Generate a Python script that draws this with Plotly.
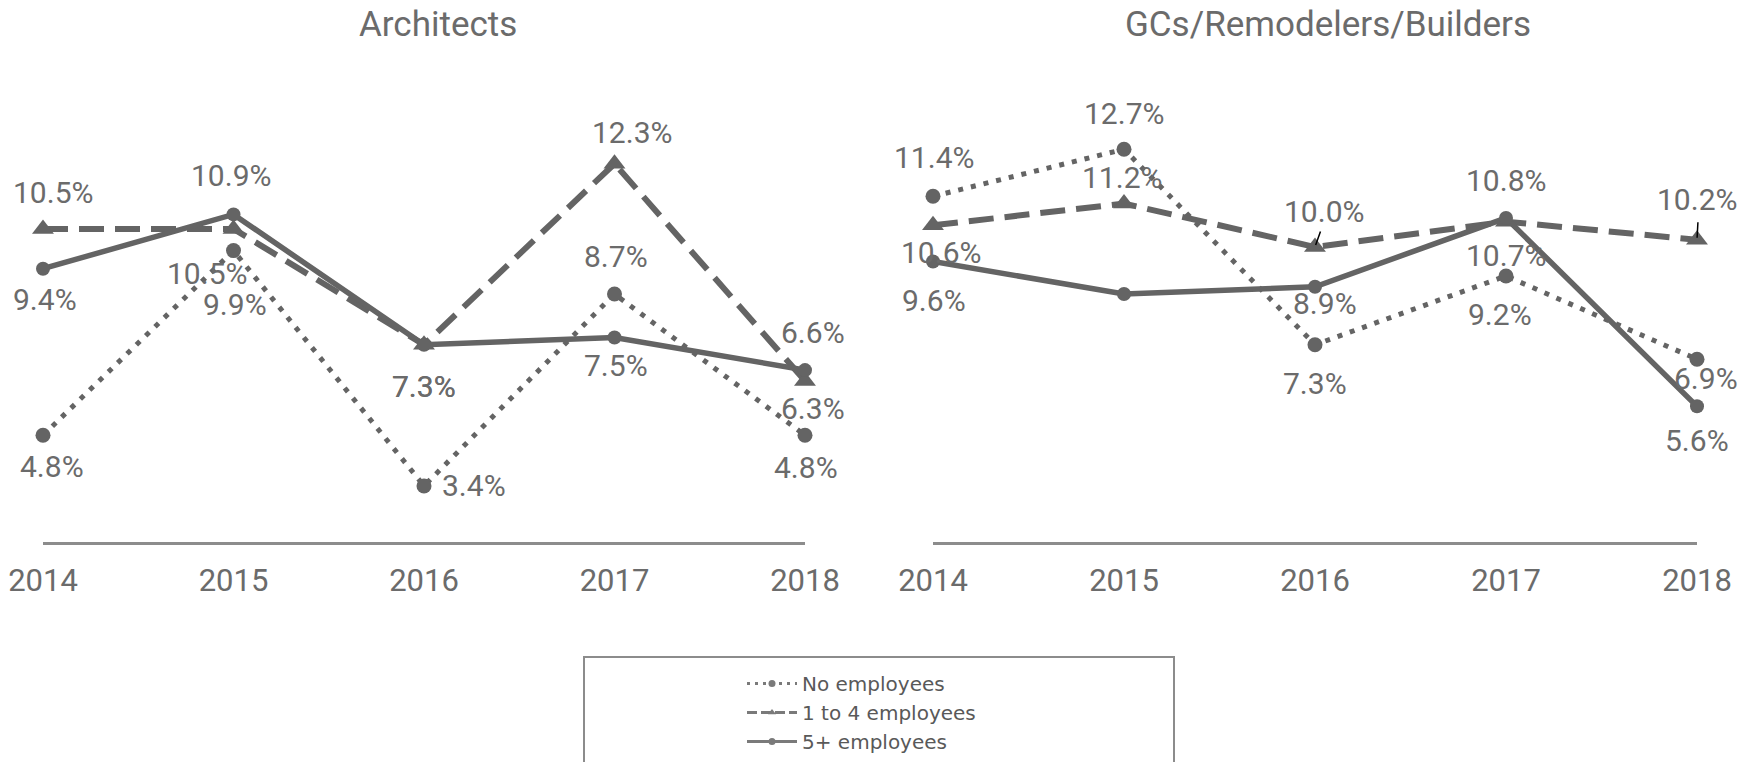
import plotly.graph_objects as go

# ---- data -------------------------------------------------------------
years = [2014, 2015, 2016, 2017, 2018]
year_labels = ["2014", "2015", "2016", "2017", "2018"]
series_names = ["No employees", "1 to 4 employees", "5+ employees"]
panel_titles = ["Architects", "GCs/Remodelers/Builders"]

arch_no_emp = [4.8, 9.9, 3.4, 8.7, 4.8]
arch_1_to_4 = [10.5, 10.5, 7.3, 12.3, 6.3]
arch_5_plus = [9.4, 10.9, 7.3, 7.5, 6.6]

gc_no_emp = [11.4, 12.7, 7.3, 9.2, 6.9]
gc_1_to_4 = [10.6, 11.2, 10.0, 10.7, 10.2]
gc_5_plus = [9.6, 8.7, 8.9, 10.8, 5.6]
gc_5_plus_labelled = [True, False, True, True, True]

# ---- label placement (pixel offsets: right, down) ---------------------
arch_offsets = [
    [(9, 31), (1, 54), (50, 0), (1, -38), (1, 32)],
    [(10, -36), (-27, 45), (0, 42), (17, -31), (8, 28)],
    [(2, 31), (-3, -39), (0, 42), (1, 28), (8, -38)],
]
gc_offsets = [
    [(1, -39), (0, -36), (0, 39), (-6, 39), (9, 19)],
    [(8, 27), (-2, -26), (9, -36), (0, 34), (0, -40)],
    [(1, 39), (0, 0), (10, 17), (0, -38), (0, 34)],
]

# ---- styling ----------------------------------------------------------
W, H = 1754, 762
LINE = "#646464"
TEXT = "#6b6b6b"
AXIS = "#8c8c8c"
FONT = "Roboto"

styles = [
    dict(dash="5px,8px", width=5, symbol="circle", msize=15),
    dict(dash="25px,11px", width=6, symbol="triangle-up", msize=19),
    dict(dash="solid", width=5.5, symbol="circle", msize=14),
]
legend_dash = ["3px,5px", "10px,4px", "solid"]

fig = go.Figure()

panels = [
    ("x", "y", [arch_no_emp, arch_1_to_4, arch_5_plus], arch_offsets, [None, None, None]),
    ("x2", "y2", [gc_no_emp, gc_1_to_4, gc_5_plus], gc_offsets, [None, None, gc_5_plus_labelled]),
]

annotations = []
for p, (xa, ya, values, offsets, masks) in enumerate(panels):
    for s, vals in enumerate(values):
        st = styles[s]
        fig.add_trace(go.Scatter(
            x=years, y=vals, xaxis=xa, yaxis=ya,
            mode="lines+markers",
            name=series_names[s],
            legendgroup=series_names[s],
            showlegend=False,
            line=dict(color=LINE, width=st["width"], dash=st["dash"]),
            marker=dict(color=LINE, size=st["msize"], symbol=st["symbol"]),
            cliponaxis=False,
            hoverinfo="skip",
        ))
        for i, v in enumerate(vals):
            if masks[s] is not None and not masks[s][i]:
                continue
            dx, dy = offsets[s][i]
            annotations.append(dict(
                x=years[i], y=v, xref=xa, yref=ya,
                text=f"{v:.1f}%", showarrow=False,
                xshift=dx, yshift=-dy,
                font=dict(family=FONT, size=30, color=TEXT),
            ))

# compact legend keys (small markers, thin strokes)
for s, name in enumerate(series_names):
    fig.add_trace(go.Scatter(
        x=[None], y=[None], xaxis="x", yaxis="y",
        mode="lines+markers", name=name, legendgroup=name, showlegend=True,
        line=dict(color="#7a7a7a", width=3, dash=legend_dash[s]),
        marker=dict(color="#7a7a7a", size=7, symbol=styles[s]["symbol"]),
        hoverinfo="skip",
    ))

# leader lines on the GC "1 to 4" labels
for i, (ax, ay) in [(2, (6, -17)), (4, (1, -19))]:
    annotations.append(dict(
        x=years[i], y=gc_1_to_4[i], xref="x2", yref="y2",
        text="", showarrow=True, arrowhead=0, arrowwidth=1.5,
        arrowcolor="#000000", ax=ax, ay=ay, standoff=2,
    ))

# panel titles
for title, xc in zip(panel_titles, [438 / W, 1328 / W]):
    annotations.append(dict(
        x=xc, y=1 - 25 / H, xref="paper", yref="paper",
        text=title, showarrow=False, xanchor="center", yanchor="middle",
        font=dict(family=FONT, size=35, color=TEXT),
    ))

y_dom = [1 - 542 / H, 1 - 102.2 / H]
y_rng = [1.851, 14.0]

xcommon = dict(
    range=[2014, 2018], tickvals=years, ticktext=year_labels,
    showline=True, linecolor=AXIS, linewidth=2.5,
    showgrid=False, zeroline=False, ticks="", automargin=False,
    tickfont=dict(family=FONT, size=31, color=TEXT),
    ticklabelstandoff=9,
)
ycommon = dict(range=y_rng, domain=y_dom, visible=False, automargin=False,
               showgrid=False, zeroline=False)

fig.update_layout(
    width=W, height=H,
    margin=dict(l=0, r=0, t=0, b=0, autoexpand=False),
    paper_bgcolor="white", plot_bgcolor="white",
    font=dict(family=FONT, color=TEXT),
    xaxis=dict(domain=[43 / W, 805 / W], anchor="y", **xcommon),
    xaxis2=dict(domain=[933 / W, 1697 / W], anchor="y2", **xcommon),
    yaxis=dict(anchor="x", **ycommon),
    yaxis2=dict(anchor="x2", **ycommon),
    annotations=annotations,
    showlegend=True,
    legend=dict(
        x=742 / W, y=1 - 664 / H, xanchor="left", yanchor="top",
        font=dict(family="DejaVu Sans", size=20, color="#595959"),
        bgcolor="rgba(0,0,0,0)", borderwidth=0,
        itemwidth=50, tracegroupgap=0,
    ),
    shapes=[dict(
        type="rect", xref="paper", yref="paper",
        x0=584 / W, x1=1174 / W, y0=-0.05, y1=1 - 657 / H,
        line=dict(color="#8c8c8c", width=2), fillcolor="rgba(0,0,0,0)",
    )],
)

fig.write_html("out.html")
